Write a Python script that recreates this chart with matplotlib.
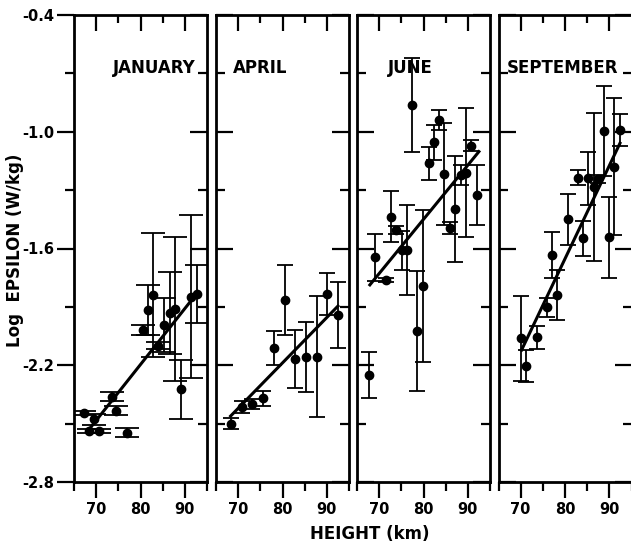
"""
Log EPSILON vs HEIGHT for four months: four panels with error bars and a fitted line
"""

import matplotlib
matplotlib.use('Agg')
import matplotlib.pyplot as plt

# ---- data (height in km, log epsilon in W/kg) ----
jan_height = [67.3, 69.6, 68.45, 70.7, 73.5, 74.5, 77.0, 80.6, 81.7, 82.9,
              84.0, 85.3, 86.6, 87.8, 89.1, 91.5, 92.7]
jan_eps = [-2.447, -2.478, -2.536, -2.536, -2.361, -2.433, -2.546, -2.019, -1.916, -1.839,
           -2.099, -1.993, -1.930, -1.911, -2.324, -1.847, -1.834]
jan_err = [0.01, 0.027, 0.01, 0.01, 0.025, 0.025, 0.025, 0.025, 0.13, 0.32,
           0.02, 0.14, 0.21, 0.37, 0.15, 0.42, 0.15]
jan_fit_height = [68.6, 92.7]
jan_fit_eps = [-2.524, -1.831]

apr_height = [68.3, 70.8, 73.2, 75.7, 78.1, 80.5, 82.9, 85.3, 87.7, 90.1, 92.5]
apr_eps = [-2.50, -2.413, -2.399, -2.37, -2.11, -1.865, -2.169, -2.156, -2.156, -1.834, -1.942]
apr_err = [0.03, 0.03, 0.025, 0.04, 0.087, 0.18, 0.15, 0.18, 0.31, 0.11, 0.17]
apr_fit_height = [68.3, 92.5]
apr_fit_eps = [-2.461, -1.896]

jun_height = [77.48, 83.57, 82.37, 81.24, 84.7, 85.98, 87.1, 88.46, 89.59, 90.7,
              92.07, 72.67, 73.72, 69.06, 75.07, 76.2, 71.47, 79.8, 78.6, 67.8]
jun_eps = [-0.862, -0.940, -1.054, -1.162, -1.217, -1.496, -1.397, -1.222, -1.210, -1.071,
           -1.325, -1.436, -1.505, -1.645, -1.608, -1.608, -1.762, -1.793, -2.024, -2.25]
jun_err = [0.24, 0.05, 0.09, 0.085, 0.26, 0.03, 0.27, 0.05, 0.33, 0.03,
           0.155, 0.13, 0.02, 0.12, 0.10, 0.23, 0.01, 0.39, 0.31, 0.12]
jun_fit_height = [67.9, 92.5]
jun_fit_eps = [-1.787, -1.102]

sep_height = [88.8, 92.4, 91.0, 90.0, 82.85, 85.25, 87.5, 86.6, 80.6, 84.1,
              77.1, 78.3, 75.85, 73.6, 70.0, 71.1]
sep_eps = [-0.996, -0.991, -1.179, -1.543, -1.236, -1.239, -1.243, -1.282, -1.450, -1.548,
           -1.633, -1.839, -1.902, -2.056, -2.062, -2.204]
sep_err = [0.23, 0.08, 0.35, 0.21, 0.04, 0.137, 0.02, 0.38, 0.13, 0.09,
           0.12, 0.13, 0.05, 0.06, 0.22, 0.08]
sep_fit_height = [70.2, 92.4]
sep_fit_eps = [-2.122, -1.059]

months = ['JANUARY', 'APRIL', 'JUNE', 'SEPTEMBER']
month_label_x = [73.8, 68.8, 72.0, 66.85]

x_major = [70, 80, 90]
x_minor = [65, 75, 85, 95]
x_top_minor = [75, 85]
y_major = [-2.8, -2.2, -1.6, -1.0, -0.4]
y_minor = [-2.5, -1.9, -1.3, -0.7]
y_labels = ['-2.8', '-2.2', '-1.6', '-1.0', '-0.4']

# ---- layout (pixels of the 631x545 picture) ----
W, H = 631.0, 545.0
panel_left = [74, 216, 357, 498.5]
panel_w = 133
panel_top, panel_bottom = 15, 482

plt.rcParams['font.family'] = ['DejaVu Sans']
plt.rcParams['font.weight'] = 'bold'


def draw_panel(fig, i, height, eps, err, fit_h, fit_e, capsize):
    """Draws one month panel."""
    ax = fig.add_axes([panel_left[i] / W, (H - panel_bottom) / H,
                       panel_w / W, (panel_bottom - panel_top) / H])

    ax.errorbar(height, eps, yerr=err, fmt='o', color='black', ms=6,
                elinewidth=1.3, capsize=capsize, capthick=1.3, zorder=3)
    ax.plot(fit_h, fit_e, color='black', lw=2.2, zorder=4)

    ax.set_xlim(65, 95)
    ax.set_ylim(-2.8, -0.4)
    for s in ax.spines.values():
        s.set_linewidth(2.0)

    # bottom ticks (outwards, labelled)
    ax.set_xticks(x_major)
    ax.set_xticks(x_minor, minor=True)
    ax.set_xticklabels([str(v) for v in x_major])
    ax.tick_params(axis='x', which='major', direction='out', length=11.5, width=1.6,
                   labelsize=10.5, pad=3, top=False)
    ax.tick_params(axis='x', which='minor', direction='out', length=6.5, width=1.6, top=False)

    # left ticks: outwards with labels only on the first panel
    ax.set_yticks(y_major)
    ax.set_yticks(y_minor, minor=True)
    ydir = 'out' if i == 0 else 'in'
    ax.tick_params(axis='y', which='major', direction=ydir, length=12, width=1.6,
                   labelsize=10.5, pad=2, right=False, labelleft=(i == 0))
    ax.tick_params(axis='y', which='minor', direction=ydir, length=6.5, width=1.6, right=False)
    if i == 0:
        ax.set_yticklabels(y_labels)

    # top and right ticks point inwards
    top = ax.secondary_xaxis('top')
    top.set_xticks(x_major)
    top.set_xticks(x_top_minor, minor=True)
    top.tick_params(which='major', direction='in', length=11.5, width=1.6, labeltop=False)
    top.tick_params(which='minor', direction='in', length=6, width=1.6)
    right = ax.secondary_yaxis('right')
    right.set_yticks(y_major)
    right.set_yticks(y_minor, minor=True)
    right.tick_params(which='major', direction='in', length=12, width=1.6, labelright=False)
    right.tick_params(which='minor', direction='in', length=6.5, width=1.6)
    for sec in (top, right):
        for s in sec.spines.values():
            s.set_visible(False)

    ax.text(month_label_x[i], -0.7, months[i], fontsize=12, fontweight='bold',
            ha='left', va='baseline', zorder=5)
    return ax


fig = plt.figure(figsize=(W / 100, H / 100), dpi=100)

draw_panel(fig, 0, jan_height, jan_eps, jan_err, jan_fit_height, jan_fit_eps, 8.5)
draw_panel(fig, 1, apr_height, apr_eps, apr_err, apr_fit_height, apr_fit_eps, 5.8)
draw_panel(fig, 2, jun_height, jun_eps, jun_err, jun_fit_height, jun_fit_eps, 5.8)
draw_panel(fig, 3, sep_height, sep_eps, sep_err, sep_fit_height, sep_fit_eps, 5.8)

fig.text(15 / W, 1 - 250 / H, 'Log  EPSILON (W/kg)', rotation=90, fontsize=12,
         fontweight='bold', ha='center', va='center')
fig.text(370 / W, 1 - 534 / H, 'HEIGHT (km)', fontsize=12, fontweight='bold',
         ha='center', va='center')

fig.savefig('out.png', dpi=100)
